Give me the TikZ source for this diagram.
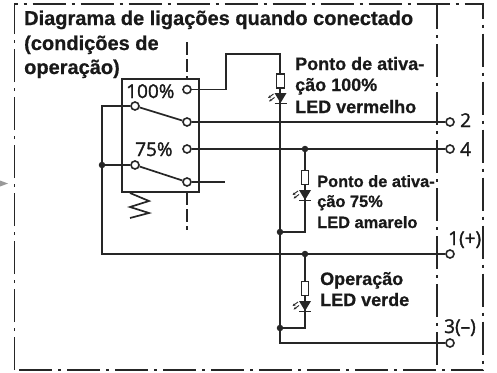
\documentclass[tikz,border=0pt]{standalone}
\usepackage{fontspec}
\setmainfont[BoldFeatures={FakeBold=0.6}]{Liberation Sans}
\newfontfamily\numfont[FakeBold=1.5]{Open Sans}
\usetikzlibrary{arrows.meta}
\tikzset{
  wire/.style={line width=1.7pt,color=black!85,line join=miter},
  frameline/.style={line width=1.7pt,color=black!85,dash pattern=on 33pt off 6pt on 3pt off 6pt},
  divline/.style={line width=1.6pt,color=black!85,dash pattern=on 13pt off 4pt},
  term/.style={circle,draw=black!85,line width=1.6pt,fill=white,minimum size=8pt,inner sep=0pt},
  dotn/.style={circle,fill=black!85,minimum size=6.5pt,inner sep=0pt},
  res/.style={rectangle,draw=black!85,line width=1.4pt,fill=white,minimum width=7.5pt,minimum height=14pt,inner sep=0pt},
  lbl/.style={font=\bfseries\fontsize{18}{21}\selectfont,text=black!90,align=left,inner sep=0pt,anchor=base west},
  lblb/.style={font=\bfseries\fontsize{16.4}{20.5}\selectfont,text=black!90,align=left,inner sep=0pt,anchor=base west},
  ttl/.style={font=\bfseries\fontsize{20}{24.5}\selectfont,text=black!90,align=left,inner sep=0pt,anchor=base west},
  num/.style={font=\numfont\fontsize{19}{20}\selectfont,text=black!90,inner sep=0pt,anchor=base west},
  ledarrow/.style={line width=0.9pt,color=black!85,-{Stealth[length=3pt,width=2.6pt]}}
}
\newcommand{\ledmark}[2]{%
  \fill[black!85] (#1-6,#2) -- (#1+6,#2) -- (#1,#2+10) -- cycle;
  \draw[line width=1.4pt,black!85] (#1-6,#2+10.5) -- (#1+6,#2+10.5);
  \draw[ledarrow] (#1-7,#2+1) -- (#1-12.5,#2+5);
  \draw[ledarrow] (#1-6,#2+4.5) -- (#1-11.5,#2+8.5);
}
\begin{document}
\begin{tikzpicture}[x=1pt,y=-1pt]
\useasboundingbox (0,0) rectangle (497,372);
% gray pointer
\fill[black!40] (0,180.5) -- (8,183.5) -- (0,186.5) -- cycle;
% frame
\coordinate (fa) at (14.5,370);
\coordinate (fb) at (14.5,4);
\coordinate (fc) at (483,4);
\coordinate (fd) at (483,370);
\coordinate (ia) at (437,4);
\coordinate (ib) at (437,370);
\draw[frameline] (fa) -- (fb) -- (fc) -- (fd) -- cycle;
\draw[frameline,dash phase=8pt] (ia) -- (ib);
% switch box
\node[draw=black!85,line width=1.7pt,minimum width=77pt,minimum height=113pt,inner sep=0pt] (box) at (160.5,135.5) {};
\coordinate (dt) at (187,42);
\coordinate (dtb) at (187,79);
\coordinate (db) at (187,192);
\coordinate (dbb) at (187,230);
\draw[divline] (dt) -- (dtb);
\draw[divline] (db) -- (dbb);
% helpers
\coordinate (w1) at (102,106);
\coordinate (w2) at (102,254);
\coordinate (u1) at (226,89.5);
\coordinate (u2) at (226,54);
\coordinate (u3) at (280,54);
\coordinate (b3) at (280,343);
\coordinate (free) at (225,182);
\coordinate (k1) at (305,232);
\coordinate (k2) at (305,328);
\node[term] (c100) at (187,89.5) {};
\node[term] (a1) at (135,106) {};
\node[term] (r1) at (187,122) {};
\node[term] (c75) at (187,149) {};
\node[term] (a2) at (135,165) {};
\node[term] (r2) at (187,182) {};
\node[dotn] (jl) at (102,165) {};
\node[term] (t2) at (450,122) {};
\node[term] (t4) at (450,149) {};
\node[term] (t1) at (450,254) {};
\node[term] (t3) at (450,343) {};
\node[dotn] (j75) at (305,149) {};
\node[dotn] (j75b) at (280,232) {};
\node[dotn] (jop) at (305,254) {};
\node[dotn] (jopb) at (280,328) {};
% wires
\draw[wire] (c100) -- (u1) -- (u2) -- (u3) -- (b3) -- (t3);
\draw[wire] (r1) -- (t2);
\draw[wire] (c75) -- (j75) -- (t4);
\draw[wire] (a1) -- (w1) -- (w2) -- (jop) -- (t1);
\draw[wire] (jl) -- (a2);
\draw[wire] (a1) -- (r1);
\draw[wire] (a2) -- (r2);
\draw[wire] (r2) -- (free);
\draw[wire] (j75) -- (k1) -- (j75b);
\draw[wire] (jop) -- (k2) -- (jopb);
% resistors and LEDs
\node[res] (r100) at (280.5,81) {};
\node[res] (r75) at (305,177.5) {};
\node[res] (rop) at (305,288.5) {};
\ledmark{280.5}{93}
\ledmark{305}{190}
\ledmark{305}{301}
% spring
\coordinate (s0) at (130,193);
\draw[wire] (s0) -- (149,201) -- (130,207) -- (149,213) -- (130,218);
% text
\node[ttl] (title) at (24,25) {Diagrama de ligações quando conectado};
\node[ttl] (title2) at (24,50) {(condições de};
\node[ttl] (title3) at (24,74) {operação)};
\node[num] (p100) at (126,98) {100\%};
\node[num] (p75) at (135,156) {75\%};
\node[lbl] (l1a) at (295,70) {Ponto de ativa-};
\node[lbl] (l1b) at (295,91) {ção 100\%};
\node[lbl] (l1c) at (295,113) {LED vermelho};
\node[lblb] (l2a) at (317,187) {Ponto de ativa-};
\node[lblb] (l2b) at (317,207) {ção 75\%};
\node[lblb] (l2c) at (317,228) {LED amarelo};
\node[lbl] (l3a) at (320,285) {Operação};
\node[lbl] (l3b) at (320,306) {LED verde};
\node[num] (n2) at (460,127) {2};
\node[num] (n4) at (460,156) {4};
\node[num] (n1) at (448,245) {1(+)};
\node[num] (n3) at (444,333) {3(–)};
\end{tikzpicture}
\end{document}
